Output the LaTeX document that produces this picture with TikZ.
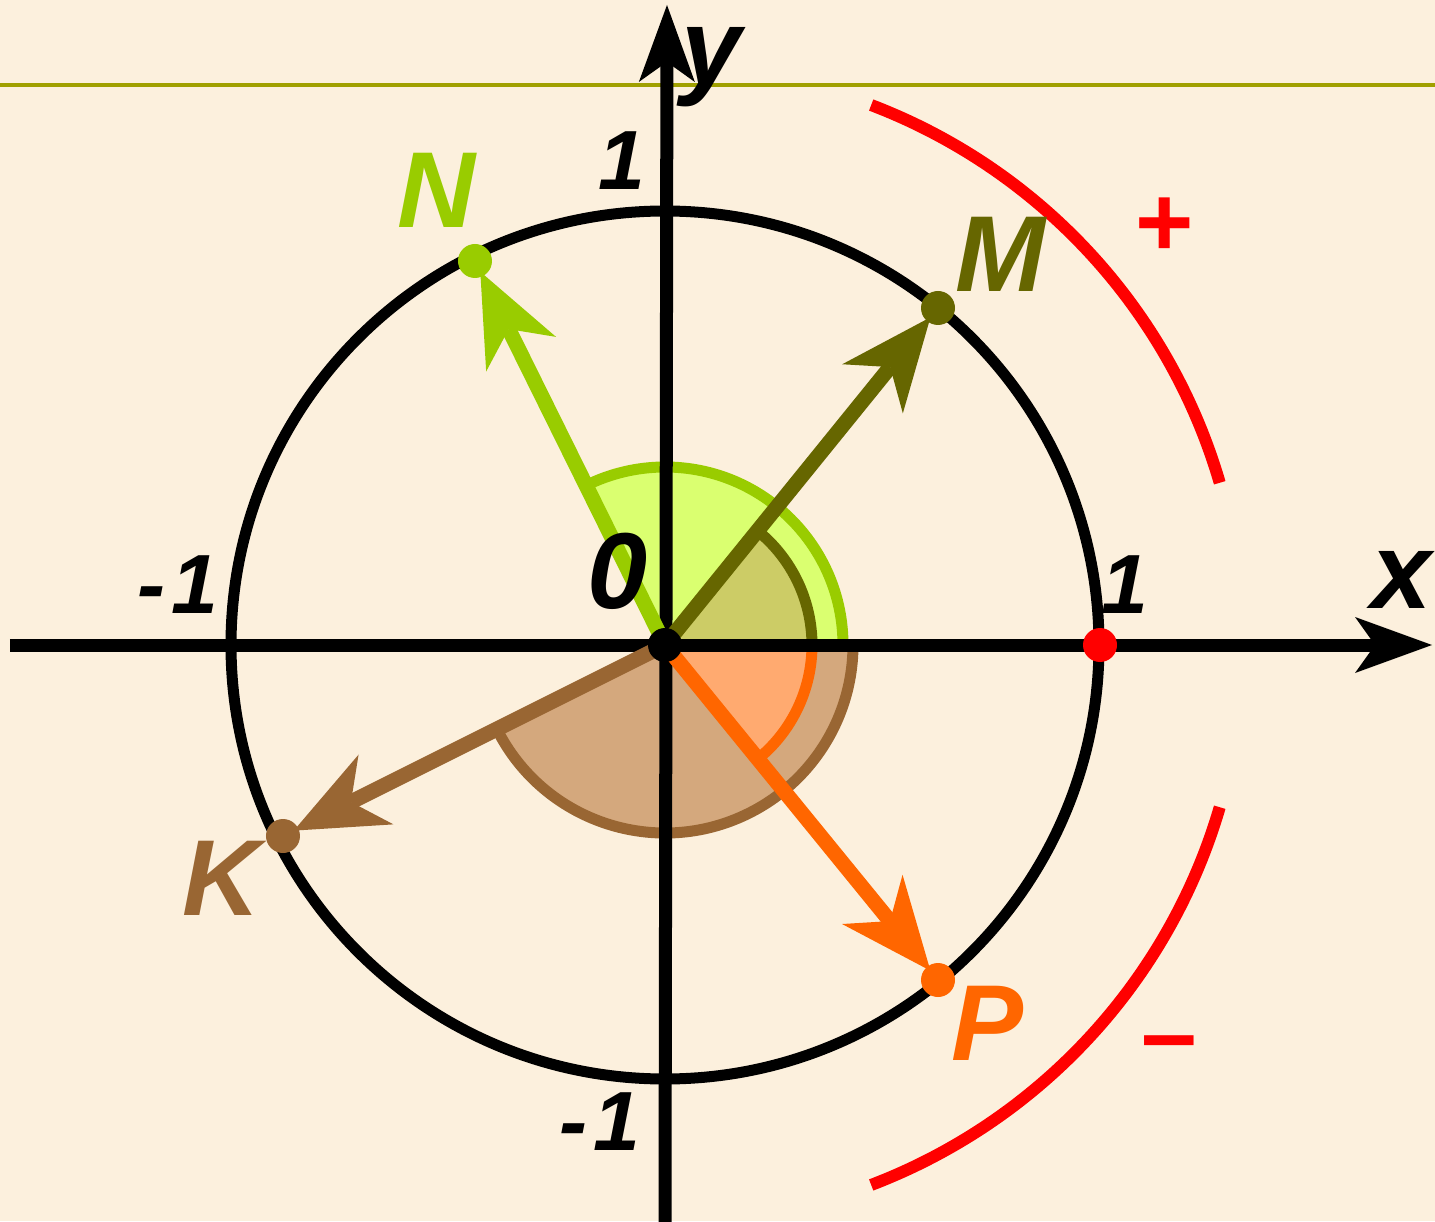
\documentclass[tikz,border=0pt]{standalone}
\usepackage{fontspec}
\setmainfont{Liberation Sans}
\usetikzlibrary{arrows.meta}
\definecolor{bg}{RGB}{252,240,221}
\definecolor{hline}{RGB}{160,160,0}
\definecolor{colN}{HTML}{99CC00}
\definecolor{fillN}{RGB}{218,255,112}
\definecolor{colM}{HTML}{666600}
\definecolor{fillM}{RGB}{204,204,102}
\definecolor{colK}{HTML}{996633}
\definecolor{fillK}{RGB}{212,168,125}
\definecolor{colP}{HTML}{FF6600}
\definecolor{fillP}{RGB}{255,170,112}
\definecolor{sign}{HTML}{FF0000}
\begin{document}
\begin{tikzpicture}[x=1pt,y=1pt,
  axisline/.style={line width=13pt, black, -{Stealth[length=77pt,width=56pt,inset=20pt,line width=0pt]}},
  vec/.style={line width=15pt, -{Stealth[length=92pt,width=78pt,inset=28pt,line width=0pt]}, shorten >=12pt},
  dot/.style={circle, inner sep=0pt, minimum size=34pt},
  lbl/.style={font=\bfseries\itshape\fontsize{108}{108}\selectfont, inner sep=0pt, anchor=base},
  num/.style={font=\bfseries\itshape\fontsize{84}{84}\selectfont, inner sep=0pt, anchor=base},
  sector/.style={line width=11pt},
  signarc/.style={line width=12pt, sign},
  signtxt/.style={font=\bfseries\fontsize{100}{100}\selectfont, text=sign, inner sep=0pt}
]
\fill[bg] (-665,-576) rectangle (770,645);
\useasboundingbox (-665,-576) rectangle (770,645);

% top rule
\coordinate (hl) at (-665,560);
\coordinate (hr) at (770,560);
\draw[hline, line width=4pt] (hl) -- (hr);

% origin and points on the unit circle
\coordinate (o) at (0,0);
\coordinate (n) at (-190,384);
\coordinate (m) at (273,337);
\coordinate (k) at (-382,-191);
\coordinate (p) at (273,-335);
\coordinate (e) at (435,0);

% angle sectors
\fill[fillK] (o) -- (-153.4:188) arc[start angle=-153.4, end angle=0, radius=188] -- cycle;
\draw[sector, colK] (-153.4:188) arc[start angle=-153.4, end angle=0, radius=188];
\fill[fillP] (o) -- (-50.8:147) arc[start angle=-50.8, end angle=0, radius=147] -- cycle;
\draw[sector, colP] (-50.8:147) arc[start angle=-50.8, end angle=0, radius=147];
\fill[fillN] (o) -- (0:178) arc[start angle=0, end angle=116.3, radius=178] -- cycle;
\draw[sector, colN] (0:178) arc[start angle=0, end angle=116.3, radius=178];
\fill[fillM] (o) -- (0:147) arc[start angle=0, end angle=51, radius=147] -- cycle;
\draw[sector, colM] (0:147) arc[start angle=0, end angle=51, radius=147];

% sign arcs
\draw[signarc] (69.1:578) arc[start angle=69.1, end angle=16.3, radius=578];
\draw[signarc] (-16.3:578) arc[start angle=-16.3, end angle=-69.1, radius=578];
\node[signtxt] (plus) at (500,418) {+};
\node[signtxt] (minus) at (504,-407) {–};

% axes
\coordinate (xl) at (-655,0);
\coordinate (xr) at (767,0);
\coordinate (yb) at (0,-590);
\coordinate (yt) at (2,640);
\draw[axisline] (xl) -- (xr);
\draw[axisline] (yb) -- (yt);

% unit circle
\draw[line width=11pt] (o) circle[radius=434];

% vectors
\draw[vec, colN] (o) -- (n);
\draw[vec, colM] (o) -- (m);
\draw[vec, colK] (o) -- (k);
\draw[vec, colP] (o) -- (p);

% dots
\node[dot, fill=black] (O) at (o) {};
\node[dot, fill=colN] (N) at (n) {};
\node[dot, fill=colM] (M) at (m) {};
\node[dot, fill=colK] (K) at (k) {};
\node[dot, fill=colP] (P) at (p) {};
\node[dot, fill=sign] (E) at (e) {};

% labels
\node[lbl, text=colN] (lN) at (-228,417) {N};
\node[lbl, text=colM] (lM) at (335,353) {M};
\node[lbl, text=colK] (lK) at (-443,-270) {K};
\node[lbl, text=colP] (lP) at (323,-415) {P};
\node[lbl] (l0) at (-47,37) {0};
\node[lbl] (lx) at (737,37) {x};
\node[lbl] (ly) at (47,560) {y};
\node[num] (t1) at (-43,455) {1};
\node[num] (tm1) at (-487,32) {-\hspace{6pt}1};
\node[num] (r1) at (460,32) {1};
\node[num] (bm1) at (-65,-505) {-\hspace{6pt}1};
\end{tikzpicture}
\end{document}
